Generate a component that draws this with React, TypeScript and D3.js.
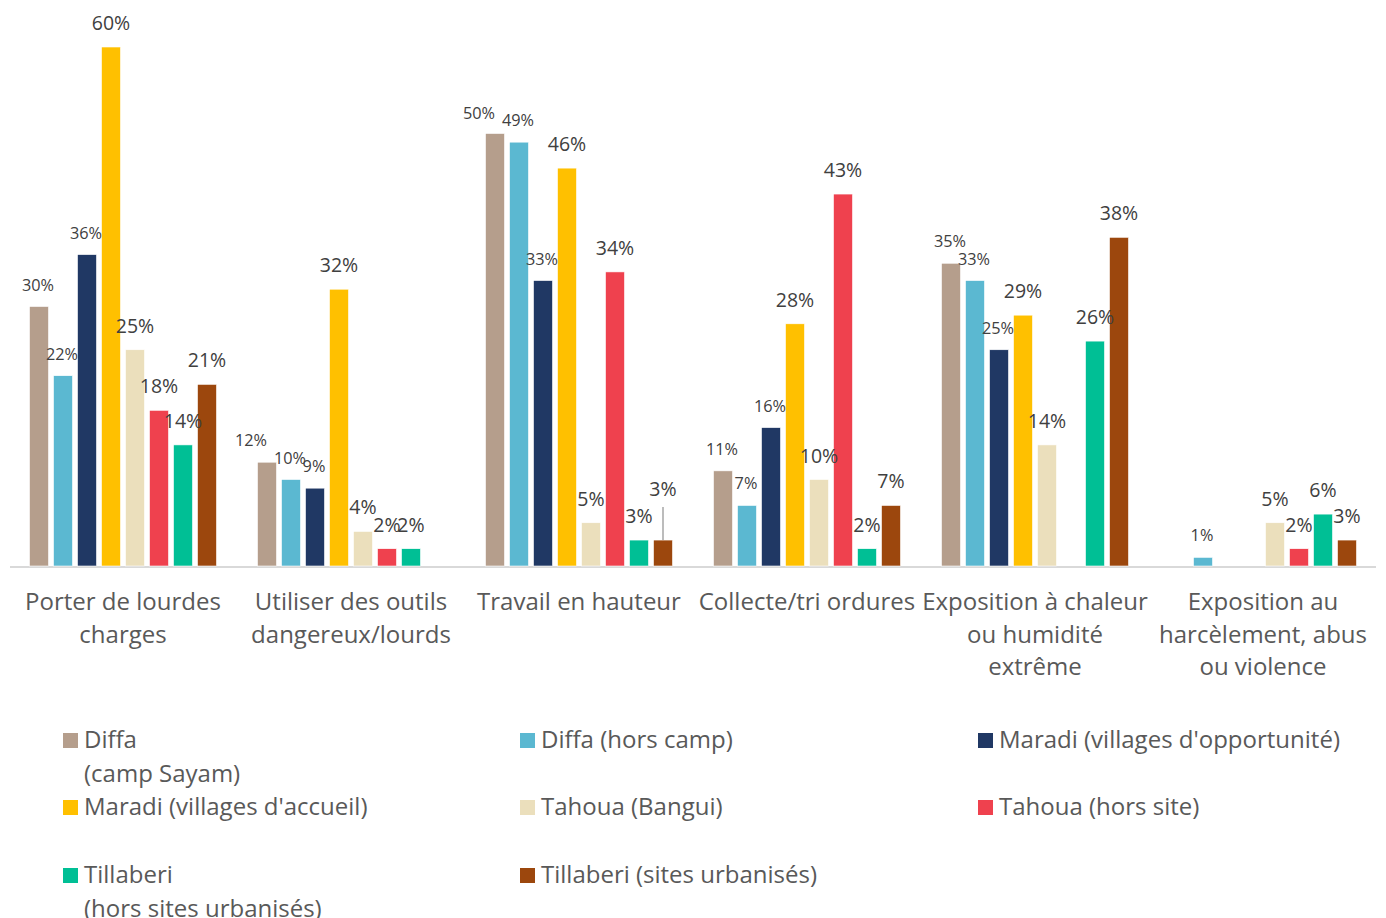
import React from "react";
import * as d3 from "d3";

const categories: string[][] = [
  ["Porter de lourdes", "charges"],
  ["Utiliser des outils", "dangereux/lourds"],
  ["Travail en hauteur"],
  ["Collecte/tri ordures"],
  ["Exposition à chaleur", "ou humidité", "extrême"],
  ["Exposition au", "harcèlement, abus", "ou violence"],
];

const seriesNames: string[][] = [
  ["Diffa", "(camp Sayam)"],
  ["Diffa (hors camp)"],
  ["Maradi (villages d'opportunité)"],
  ["Maradi (villages d'accueil)"],
  ["Tahoua (Bangui)"],
  ["Tahoua (hors site)"],
  ["Tillaberi", "(hors sites urbanisés)"],
  ["Tillaberi (sites urbanisés)"],
];

const colors = ["#B59E8C", "#5BB8D1", "#203864", "#FFC000", "#EBDFBC", "#EF414E", "#00BF95", "#9C470D"];

// values per series (in %), index = category; null = no bar
const diffaCamp = [30, 12, 50, 11, 35, null];
const diffaHors = [22, 10, 49, 7, 33, 1];
const maradiOpp = [36, 9, 33, 16, 25, null];
const maradiAcc = [60, 32, 46, 28, 29, null];
const tahouaBangui = [25, 4, 5, 10, 14, 5];
const tahouaHors = [18, 2, 34, 43, null, 2];
const tillHors = [14, 2, 3, 2, 26, 6];
const tillUrb = [21, null, 3, 7, 38, 3];

const values = [diffaCamp, diffaHors, maradiOpp, maradiAcc, tahouaBangui, tahouaHors, tillHors, tillUrb];

const FONT = "'Open Sans', sans-serif";

export default function App() {
  const width = 1386;
  const height = 918;
  const baseY = 566;

  const x0 = d3.scaleBand<number>().domain(d3.range(categories.length)).range([9, 1377]).paddingInner(0).paddingOuter(0);
  const groupW = 8 * 24;
  const x1 = d3
    .scaleBand<number>()
    .domain(d3.range(seriesNames.length))
    .range([0, groupW])
    .paddingInner(5 / 24)
    .paddingOuter(5 / 48);
  const y = d3.scaleLinear().domain([0, 60]).range([baseY, 47]);

  const bars: any[] = [];
  const labels: any[] = [];
  categories.forEach((_, ci) => {
    const gx = (x0(ci) as number) + x0.bandwidth() / 2 - groupW / 2;
    values.forEach((arr, si) => {
      const v = arr[ci];
      if (v === null || v === undefined) return;
      const bx = gx + (x1(si) as number);
      const bw = x1.bandwidth();
      const top = y(v);
      bars.push(
        <rect key={`b${ci}-${si}`} x={bx} y={top} width={bw} height={baseY - top} fill={colors[si]} stroke="#fff" strokeWidth={0.6} />
      );
      const small = si <= 2;
      let ly = top - (small ? 16 : 17);
      let lx = bx + bw / 2 - (small ? 1 : 0);
      if ((ci === 2 || ci === 1) && si === 0) {
        lx -= 15;
        if (ci === 2) ly += 1;
      }
      if (ci === 2 && si === 7) {
        ly = top - 44;
        labels.push(
          <line key={`ll${ci}-${si}`} x1={bx + bw / 2} x2={bx + bw / 2} y1={top} y2={top - 33} stroke="#A6A6A6" strokeWidth={1.5} />
        );
      }
      labels.push(
        <text
          key={`l${ci}-${si}`}
          x={lx}
          y={ly}
          textAnchor="middle"
          fontSize={small ? 16.3 : 19.5}
          fill="#404040"
          fontFamily={FONT}
        >
          {`${v}%`}
        </text>
      );
    });
  });

  const legendCols = [63, 520, 978];
  const legendRows = [748, 815, 883];

  return (
    <svg
      width={width}
      height={height}
      style={{ position: "absolute", left: 0, top: 0, background: "#fff" }}
      fontFamily={FONT}
    >
      <line x1={10} x2={1376} y1={baseY + 1} y2={baseY + 1} stroke="#D9D9D9" strokeWidth={2} />
      {bars}
      {labels}
      {categories.map((lines, ci) => (
        <text
          key={`c${ci}`}
          x={(x0(ci) as number) + x0.bandwidth() / 2}
          y={611}
          textAnchor="middle"
          fontSize={24}
          fill="#595959"
        >
          {lines.map((ln, li) => (
            <tspan key={li} x={(x0(ci) as number) + x0.bandwidth() / 2} y={610 + li * 32.5}>
              {ln}
            </tspan>
          ))}
        </text>
      ))}
      {seriesNames.map((lines, si) => {
        const col = si % 3;
        const row = Math.floor(si / 3);
        const lx = legendCols[col];
        const ly = legendRows[row];
        return (
          <g key={`lg${si}`}>
            <rect x={lx} y={ly - 15} width={15} height={15} fill={colors[si]} />
            <text x={lx + 21} y={ly} fontSize={24} fill="#595959">
              {lines.map((ln, li) => (
                <tspan key={li} x={lx + 21} y={ly + li * 33.5}>
                  {ln}
                </tspan>
              ))}
            </text>
          </g>
        );
      })}
    </svg>
  );
}
